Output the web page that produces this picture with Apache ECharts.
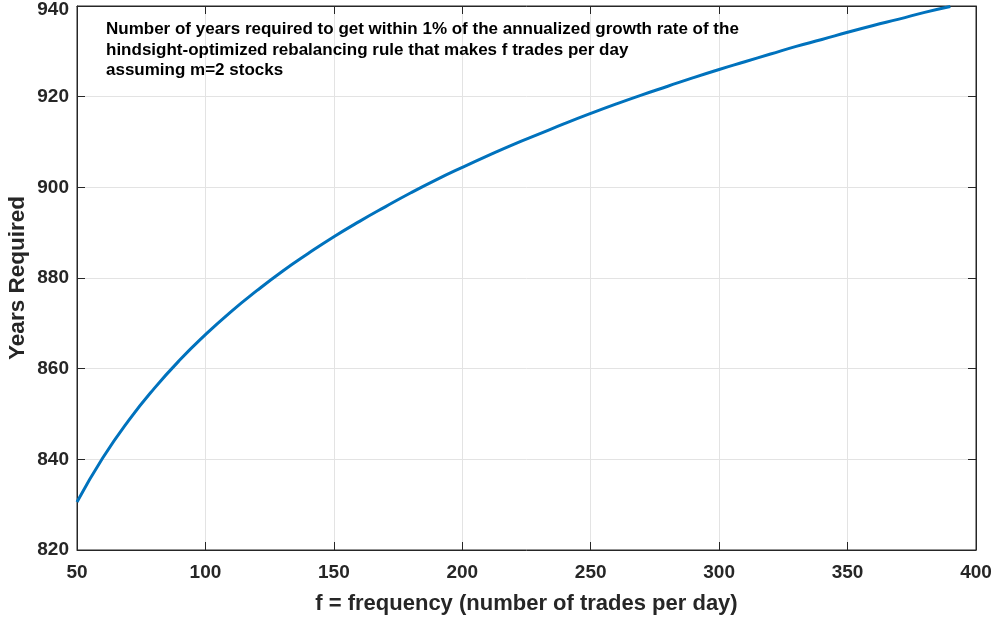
<!DOCTYPE html>
<html>
<head>
<meta charset="utf-8">
<script src="https://cdn.jsdelivr.net/npm/echarts@6/dist/echarts.min.js"></script>
<style>
  html, body { margin: 0; padding: 0; background: #fff; }
  #chart { width: 997px; height: 620px; }
</style>
</head>
<body>
<div id="chart"></div>
<script>
// Trading frequency (trades per day)
const frequency = [50, 60, 70, 80, 90, 100, 110, 120, 130, 140, 150, 160, 170, 180, 190,
  200, 210, 220, 230, 240, 250, 260, 270, 280, 290, 300, 310, 320, 330, 340, 350,
  360, 370, 380, 390];

// Years required to get within 1% of the hindsight-optimized growth rate
const yearsRequired = [830.6, 840.3, 848.5, 855.6, 861.9, 867.5, 872.6, 877.2, 881.5, 885.4,
  889.1, 892.5, 895.7, 898.8, 901.7, 904.4, 907.0, 909.5, 911.8, 914.1,
  916.3, 918.4, 920.4, 922.3, 924.2, 926.0, 927.7, 929.4, 931.1, 932.6,
  934.2, 935.7, 937.1, 938.6, 939.9];

const titleLines = [
  'Number of years required to get within 1% of the annualized growth rate of the',
  'hindsight-optimized rebalancing rule that makes f trades per day',
  'assuming m=2 stocks'
];

const xAxisTitle = 'f = frequency (number of trades per day)';
const yAxisTitle = 'Years Required';

const FONT = '"Liberation Sans", Arial, Helvetica, sans-serif';
const AXIS_COLOR = '#262626';
const Y_MAX = 940;

const chart = echarts.init(document.getElementById('chart'), null, { renderer: 'canvas' });

const tickStyle = { show: true, inside: true, length: 8, lineStyle: { color: AXIS_COLOR, width: 1 } };

chart.setOption({
  animation: false,
  backgroundColor: '#ffffff',
  title: {
    text: titleLines.join('\n'),
    left: 101,
    top: 14,
    textStyle: {
      fontFamily: FONT,
      fontWeight: 'bold',
      fontSize: 17,
      lineHeight: 20.7,
      color: '#000000'
    }
  },
  // vertical y-axis title, centred on the plot height
  graphic: [
    {
      type: 'text',
      x: 18,
      y: 278,
      rotation: Math.PI / 2,
      style: {
        text: yAxisTitle,
        fontFamily: FONT,
        fontWeight: 'bold',
        fontSize: 22.5,
        fill: AXIS_COLOR,
        textAlign: 'center',
        textVerticalAlign: 'middle'
      }
    }
  ],
  grid: {
    left: 77,
    right: 21,
    top: 6,
    bottom: 70,
    outerBoundsMode: 'none',
    containLabel: false,
    show: true,
    borderColor: AXIS_COLOR,
    borderWidth: 1,
    backgroundColor: '#ffffff'
  },
  xAxis: [
    {
      type: 'value',
      min: 50,
      max: 400,
      interval: 50,
      position: 'bottom',
      name: xAxisTitle,
      nameLocation: 'middle',
      nameGap: 43,
      nameTextStyle: { fontFamily: FONT, fontWeight: 'bold', fontSize: 22, color: AXIS_COLOR },
      axisLine: { show: true, lineStyle: { color: AXIS_COLOR, width: 1 } },
      axisTick: tickStyle,
      axisLabel: { fontFamily: FONT, fontWeight: 'bold', fontSize: 19, color: AXIS_COLOR, margin: 13 },
      splitLine: { show: true, lineStyle: { color: '#e3e3e3', width: 1 } }
    },
    {
      type: 'value',
      min: 50,
      max: 400,
      interval: 50,
      position: 'top',
      axisLine: { show: true, lineStyle: { color: AXIS_COLOR, width: 1 } },
      axisTick: tickStyle,
      axisLabel: { show: false },
      splitLine: { show: false }
    }
  ],
  yAxis: [
    {
      type: 'value',
      min: 820,
      max: Y_MAX,
      interval: 20,
      position: 'left',
      axisLine: { show: true, lineStyle: { color: AXIS_COLOR, width: 1 } },
      axisTick: tickStyle,
      axisLabel: {
        fontFamily: FONT, fontWeight: 'bold', fontSize: 19, color: AXIS_COLOR, margin: 8,
        // keep the topmost label inside the canvas
        formatter: (v) => (v === Y_MAX ? '{top|' + v + '}' : String(v)),
        rich: {
          top: { fontFamily: FONT, fontWeight: 'bold', fontSize: 19, color: AXIS_COLOR, padding: [7, 0, 0, 0] }
        }
      },
      splitLine: { show: true, lineStyle: { color: '#e3e3e3', width: 1 } }
    },
    {
      type: 'value',
      min: 820,
      max: Y_MAX,
      interval: 20,
      position: 'right',
      axisLine: { show: true, lineStyle: { color: AXIS_COLOR, width: 1 } },
      axisTick: tickStyle,
      axisLabel: { show: false },
      splitLine: { show: false }
    }
  ],
  series: [
    {
      type: 'line',
      xAxisIndex: 0,
      yAxisIndex: 0,
      data: frequency.map((f, i) => [f, yearsRequired[i]]),
      smooth: true,
      showSymbol: false,
      lineStyle: { color: '#0072BD', width: 3 },
      itemStyle: { color: '#0072BD' },
      z: 5
    }
  ]
});
</script>
</body>
</html>
